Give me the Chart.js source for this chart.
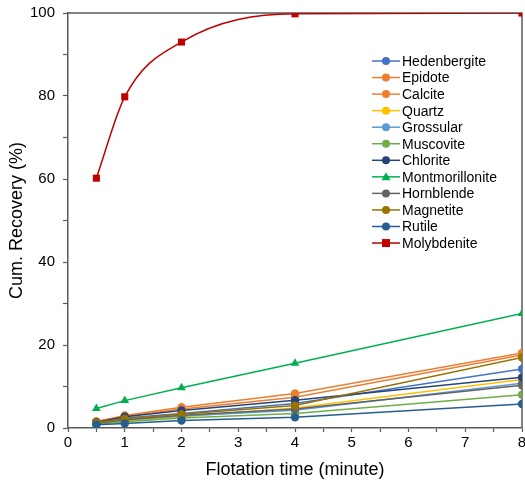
<!DOCTYPE html>
<html>
<head>
<meta charset="utf-8">
<script src="https://cdn.jsdelivr.net/npm/chart.js@4"></script>
<style>
  body { margin: 0; background: #fff; }
  #wrap { width: 525px; height: 481px; }
</style>
</head>
<body>
<div id="wrap"><canvas id="myChart" width="525" height="481"></canvas></div>
<script>
// flotation time (minute)
const times = [0.5, 1, 2, 4, 8];

const minerals = [
  "Hedenbergite", "Epidote", "Calcite", "Quartz", "Grossular", "Muscovite",
  "Chlorite", "Montmorillonite", "Hornblende", "Magnetite", "Rutile", "Molybdenite",
];

// cumulative recovery (%)
const hedenbergite = [1.3, 2.4, 3.5, 5.9, 14.2];
const epidote = [1.5, 2.8, 4.6, 7.4, 17.6];
const calcite = [1.6, 3.0, 5.0, 8.3, 18.1];
const quartz = [1.0, 1.7, 2.7, 4.8, 11.7];
const grossular = [1.1, 1.9, 2.9, 4.3, 10.8];
const muscovite = [0.9, 1.5, 2.4, 3.5, 8.0];
const chlorite = [1.4, 2.7, 4.2, 6.7, 12.2];
const montmorillonite = [4.7, 6.6, 9.7, 15.6, 27.6];
const hornblende = [1.2, 2.0, 3.1, 4.6, 10.3];
const magnetite = [1.3, 2.2, 3.3, 5.4, 17.0];
const rutile = [0.8, 1.1, 1.8, 2.6, 5.8];
const molybdenite = [60.2, 79.8, 93.0, 99.8, 100.0];

const seriesValues = [
  hedenbergite, epidote, calcite, quartz, grossular, muscovite,
  chlorite, montmorillonite, hornblende, magnetite, rutile, molybdenite,
];

const colors = [
  "#4472C4", "#ED7D31", "#ED7D31", "#FFC000", "#5B9BD5", "#70AD47",
  "#264478", "#00B050", "#636363", "#997300", "#255E91", "#C00000",
];

const yTicks = [0, 20, 40, 60, 80, 100];
const xTicks = [0, 1, 2, 3, 4, 5, 6, 7, 8];

const axisColor = "#595959";
const font = "Liberation Sans, Arial, sans-serif";

const datasets = minerals.map((name, i) => {
  const isMolly = name === "Molybdenite";
  const isMont = name === "Montmorillonite";
  return {
    label: name,
    data: times.map((t, j) => ({ x: t, y: seriesValues[i][j] })),
    borderColor: colors[i],
    backgroundColor: colors[i],
    borderWidth: 1.5,
    pointStyle: isMolly ? "rect" : isMont ? "triangle" : "circle",
    pointRadius: isMolly ? 5 : isMont ? 5 : 4.2,
    pointBorderWidth: 0,
    cubicInterpolationMode: isMolly ? "monotone" : "default",
    tension: 0,
    order: minerals.length - i,
  };
});

// legend drawn inside the plot area
const innerLegend = {
  id: "innerLegend",
  afterDraw(chart) {
    const c = chart.ctx;
    c.save();
    c.font = "14px " + font;
    c.textBaseline = "middle";
    chart.data.datasets.forEach((ds, i) => {
      const y = 61 + i * 16.55;
      c.strokeStyle = ds.borderColor;
      c.lineWidth = 1.5;
      c.beginPath();
      c.moveTo(372, y);
      c.lineTo(400, y);
      c.stroke();
      c.fillStyle = ds.backgroundColor;
      if (ds.pointStyle === "rect") {
        c.fillRect(382, y - 4, 8, 8);
      } else if (ds.pointStyle === "triangle") {
        c.beginPath();
        c.moveTo(386, y - 4.5);
        c.lineTo(390.5, y + 3.5);
        c.lineTo(381.5, y + 3.5);
        c.closePath();
        c.fill();
      } else {
        c.beginPath();
        c.arc(386, y, 4, 0, Math.PI * 2);
        c.fill();
      }
      c.fillStyle = "#000";
      c.fillText(ds.label, 402, y + 1);
    });
    c.restore();
  },
};

// top and right border of the plot area
const frame = {
  id: "frame",
  beforeDatasetsDraw(chart) {
    const a = chart.chartArea;
    const c = chart.ctx;
    c.save();
    c.strokeStyle = axisColor;
    c.lineWidth = 1.5;
    c.beginPath();
    c.moveTo(a.left, a.top);
    c.lineTo(a.right, a.top);
    c.lineTo(a.right, a.bottom);
    c.stroke();
    c.restore();
  },
};

const ctx = document.getElementById("myChart");

const myChart = new Chart(ctx, {
  type: "line",
  data: { datasets },
  plugins: [frame, innerLegend],
  options: {
    responsive: false,
    animation: false,
    layout: { autoPadding: false, padding: { top: 13, right: 3, left: 0, bottom: 0 } },
    plugins: {
      legend: { display: false },
      tooltip: { enabled: false },
    },
    scales: {
      x: {
        type: "linear",
        min: 0,
        max: 8,
        afterFit(scale) {
          scale.height = 53;
          scale.paddingLeft = 0;
          scale.paddingRight = 0;
        },
        afterBuildTicks(scale) {
          const t = [];
          for (let v = 0; v <= 8; v += 0.5) t.push({ value: v });
          scale.ticks = t;
        },
        border: { color: axisColor, width: 1.5 },
        grid: { drawOnChartArea: false, tickLength: 4, tickColor: axisColor, tickWidth: 1.2 },
        ticks: {
          autoSkip: false,
          maxRotation: 0,
          padding: 2,
          color: "#000",
          font: { family: font, size: 15 },
          callback: (v) => (xTicks.includes(v) ? String(v) : ""),
        },
        title: {
          display: true,
          text: "Flotation time (minute)",
          color: "#000",
          font: { family: font, size: 18 },
          padding: { top: 2, bottom: 0 },
        },
      },
      y: {
        min: 0,
        max: 100,
        afterFit(scale) {
          scale.width = 68;
          scale.paddingTop = 0;
          scale.paddingBottom = 0;
        },
        afterBuildTicks(scale) {
          const t = [];
          for (let v = 0; v <= 100; v += 10) t.push({ value: v });
          scale.ticks = t;
        },
        border: { color: axisColor, width: 1.5 },
        grid: { drawOnChartArea: false, tickLength: 5, tickColor: axisColor, tickWidth: 1.2 },
        ticks: {
          autoSkip: false,
          padding: 8,
          color: "#000",
          font: { family: font, size: 15 },
          callback: (v) => (yTicks.includes(v) ? String(v) : ""),
        },
        title: {
          display: true,
          text: "Cum. Recovery (%)",
          color: "#000",
          font: { family: font, size: 18 },
          padding: { top: 6, bottom: 0 },
        },
      },
    },
  },
});
</script>
</body>
</html>
